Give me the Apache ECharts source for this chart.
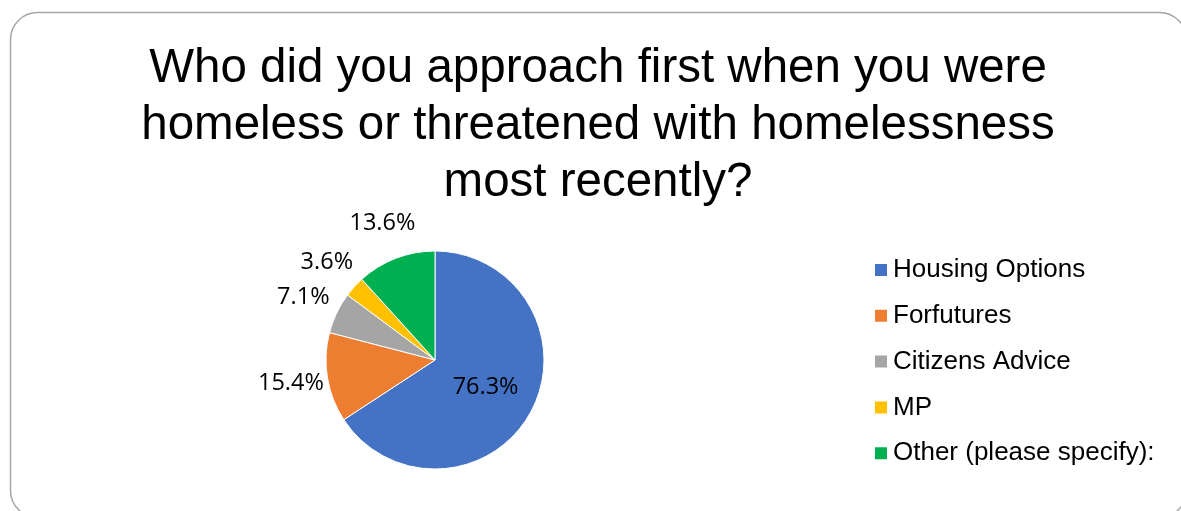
<!DOCTYPE html>
<html>
<head>
<meta charset="utf-8">
<script src="https://cdn.jsdelivr.net/npm/echarts@6/dist/echarts.min.js"></script>
<style>html,body{margin:0;padding:0;background:#fff;}#c{width:1181px;height:511px;}</style>
</head>
<body>
<div id="c"></div>
<script>
const titleLines = ['Who did you approach first when you were', 'homeless or threatened with homelessness', 'most recently?'];
const categories = ['Housing Options', 'Forfutures', 'Citizens Advice', 'MP', 'Other (please specify):'];
const values = [76.3, 15.4, 7.1, 3.6, 13.6];
const colors = ['#4472C4', '#ED7D31', '#A5A5A5', '#FFC000', '#00B050'];

const chart = echarts.init(document.getElementById('c'), null, {renderer: 'canvas'});
const fmt = p => p.value.toFixed(1) + '%';
const labelFont = {fontFamily: 'Open Sans', fontSize: 23.5, color: '#000'};

chart.setOption({
  animation: false,
  color: colors,
  graphic: [{
    type: 'rect', z: 0, silent: true,
    shape: {x: 10.5, y: 12.5, width: 1176, height: 505, r: 27},
    style: {fill: 'none', stroke: '#a6a6a6', lineWidth: 1.5}
  }],
  title: {
    text: titleLines.join('\n'),
    left: 598, top: 40, textAlign: 'center', padding: 0,
    textStyle: {fontFamily: 'Liberation Sans', fontSize: 47.5, fontWeight: 'normal', color: '#000', lineHeight: 57}
  },
  legend: {
    orient: 'vertical', left: 873, top: 257, padding: 0,
    icon: 'rect', itemWidth: 14, itemHeight: 14, itemGap: 19.8,
    data: categories,
    textStyle: {fontFamily: 'Liberation Sans', fontSize: 26, color: '#000', lineHeight: 26}
  },
  series: [{
    type: 'pie', center: [435, 360], radius: 109, startAngle: 90, clockwise: true,
    avoidLabelOverlap: false, silent: true,
    itemStyle: {borderColor: '#fff', borderWidth: 1},
    label: Object.assign({show: true, position: 'inside', formatter: fmt}, labelFont),
    labelLine: {show: false},
    data: categories.map((n, i) => ({name: n, value: values[i], label: {show: i === 0}}))
  }, {
    type: 'pie', center: [435, 360], radius: [108, 178], startAngle: 90, clockwise: true,
    avoidLabelOverlap: false, silent: true, legendHoverLink: false,
    itemStyle: {color: 'rgba(0,0,0,0)', borderWidth: 0},
    label: Object.assign({show: true, position: 'inside', formatter: fmt}, labelFont),
    labelLine: {show: false},
    data: categories.map((n, i) => ({name: n, value: values[i], label: {show: i !== 0}}))
  }]
});
</script>
</body>
</html>
